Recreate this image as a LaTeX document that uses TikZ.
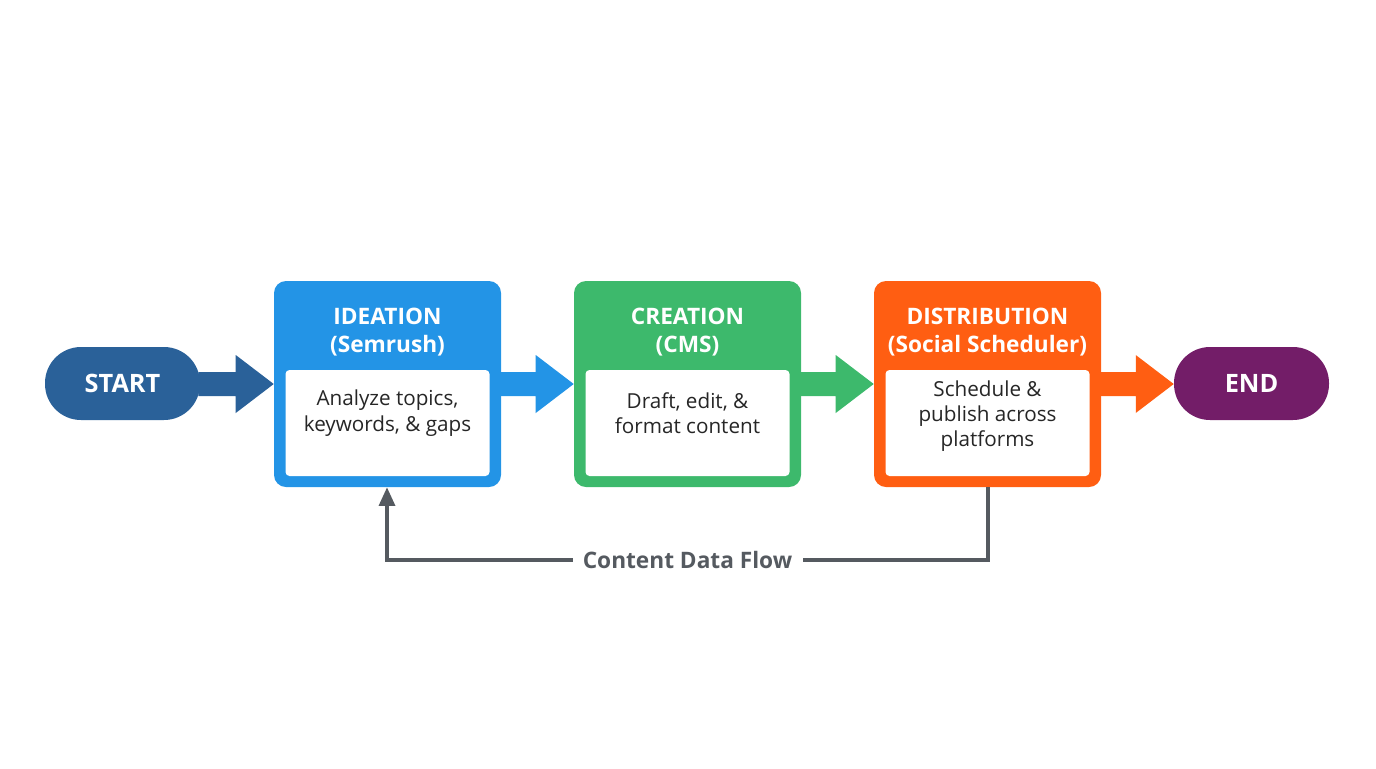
\documentclass[tikz,border=0pt]{standalone}
\usepackage{fontspec}
\setmainfont{Open Sans}
\usetikzlibrary{calc,arrows.meta}
\definecolor{cstart}{HTML}{2A6199}
\definecolor{cide}{HTML}{2394E6}
\definecolor{ccre}{HTML}{3DB96C}
\definecolor{cdis}{HTML}{FF5E12}
\definecolor{cend}{HTML}{731D68}
\definecolor{cgray}{HTML}{555A60}
\begin{document}
\begin{tikzpicture}[x=0.75pt,y=-0.75pt,
  pill/.style={rounded corners=36*0.75pt,minimum width=155*0.75pt,minimum height=73*0.75pt,text=white,font=\fontsize{19}{22}\selectfont\bfseries},
  stage/.style={rounded corners=12*0.75pt,minimum width=227*0.75pt,minimum height=206*0.75pt},
  inner/.style={fill=white,rounded corners=4*0.75pt,minimum width=204*0.75pt,minimum height=106*0.75pt,align=center,font=\fontsize{15.5}{19}\selectfont,text=black!85},
  ttl/.style={text=white,align=center,font=\fontsize{17}{21}\selectfont\bfseries}]
\useasboundingbox (0,0) rectangle (1376,768);
\node[pill,fill=cstart] (start) at (122.5,383.5) {START};
\node[pill,fill=cend] (end) at (1251.5,383.5) {END};
\foreach \n/\c/\x in {ide/cide/387.5,cre/ccre/687.5,dis/cdis/987.5}{
  \node[stage,fill=\c] (\n) at (\x,384) {};
  \node[inner] (\n i) at (\x,423) {};
}
\node[ttl] (ideT) at (387.5,332) {IDEATION\\(Semrush)};
\node[ttl] (creT) at (687.5,332) {CREATION\\(CMS)};
\node[ttl] (disT) at (987.5,332) {DISTRIBUTION\\(Social Scheduler)};
\node[inner,fill=none] at ($(idei)+(0,-10)$) {Analyze topics,\\keywords, \& gaps};
\node[inner,fill=none] at ($(crei)+(0,-10)$) {Draft, edit, \&\\format content};
\node[inner,fill=none] at ($(disi)+(0,-7)$) {Schedule \&\\publish across\\platforms};
% block arrows
\foreach \a/\b/\c in {start/ide/cstart,ide/cre/cide,cre/dis/ccre,dis/end/cdis}{
  \path let \p1=(\a.east), \p2=(\b.west) in
    coordinate (s) at (\x1-2*0.75pt,384*-0.75pt) coordinate (t) at (\x2,384*-0.75pt);
  \fill[\c] ($(s)+(0,12)$) -- ($(t)+(-38,12)$) -- ($(t)+(-38,29)$) -- (t) -- ($(t)+(-38,-29)$) -- ($(t)+(-38,-12)$) -- ($(s)+(0,-12)$) -- cycle;
}
% feedback
\node[text=cgray,font=\fontsize{17}{20}\selectfont\bfseries,fill=white,inner xsep=10*0.75pt] (lbl) at (687.5,560) {Content Data Flow};
\coordinate (fb1) at (988,560);
\coordinate (fb2) at (387,560);
\draw[cgray,line width=2.5pt] (dis.south -| fb1) -- (fb1) -- (lbl.east);
\draw[cgray,line width=2.5pt,-{Triangle[length=14pt,width=12pt]}] (lbl.west) -- (fb2) -- (ide.south -| fb2);
\end{tikzpicture}
\end{document}
